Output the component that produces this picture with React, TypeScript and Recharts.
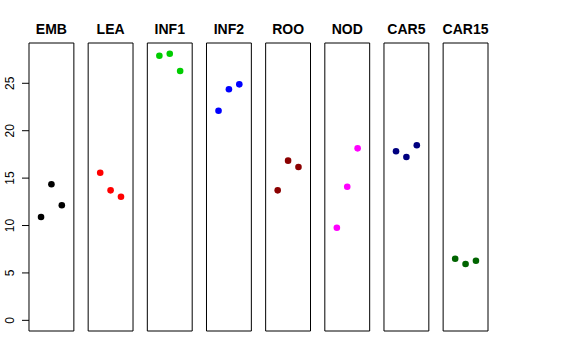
import React from 'react';
import { ScatterChart, Scatter, XAxis, YAxis, ReferenceArea } from 'recharts';

const categories = ['EMB', 'LEA', 'INF1', 'INF2', 'ROO', 'NOD', 'CAR5', 'CAR15'];
const emb = [10.9, 14.35, 12.13];
const lea = [15.57, 13.71, 13.04];
const inf1 = [27.91, 28.12, 26.3];
const inf2 = [22.11, 24.37, 24.89];
const roo = [13.71, 16.84, 16.17];
const nod = [9.77, 14.09, 18.14];
const car5 = [17.83, 17.23, 18.46];
const car15 = [6.5, 5.94, 6.29];
const seriesValues = [emb, lea, inf1, inf2, roo, nod, car5, car15];
const colors = ['#000000', '#FF0000', '#00CD00', '#0000FF', '#8B0000', '#FF00FF', '#000080', '#006400'];
const yTicks = [0, 5, 10, 15, 20, 25];

const PITCH = 5.697; // panel spacing in x units
const LOC_MIN = -0.16;
const LOC_MAX = 4.16;
const Y_MIN = -1.125;
const Y_MAX = 29.25;

const panels = categories.map((name, i) => ({
  name,
  color: colors[i],
  offset: i * PITCH,
  data: seriesValues[i].map((v, k) => ({ x: i * PITCH + k + 1, y: v })),
}));

const Dot = (props: any) => {
  const { cx, cy, fill } = props;
  if (cx == null || cy == null) return null;
  return <circle cx={cx} cy={cy} r={3.3} fill={fill} />;
};

const YTick = (props: any) => {
  const { x, y, payload } = props;
  const bx = x - 6;
  return (
    <text
      x={bx}
      y={y}
      transform={`rotate(-90, ${bx}, ${y})`}
      textAnchor="middle"
      fontSize={12}
      fontFamily="'Liberation Sans', Arial, sans-serif"
      fill="#000"
    >
      {payload.value}
    </text>
  );
};

export default function App() {
  return (
    <div style={{ position: 'absolute', left: 0, top: 0, width: 576, height: 360, background: '#fff' }}>
      <ScatterChart width={576} height={360} margin={{ top: 43, right: 88, bottom: 29, left: 1 }}>
        <XAxis
          type="number"
          dataKey="x"
          domain={[LOC_MIN, 7 * PITCH + LOC_MAX]}
          hide
          allowDataOverflow
        />
        <YAxis
          type="number"
          dataKey="y"
          domain={[Y_MIN, Y_MAX]}
          ticks={yTicks}
          width={28}
          allowDataOverflow
          axisLine={false}
          tickLine={{ stroke: '#000' }}
          tickSize={7}
          tickMargin={2}
          tick={<YTick />}
          interval={0}
        />
        {panels.map((p) => (
          <ReferenceArea
            key={'box' + p.name}
            x1={p.offset + LOC_MIN}
            x2={p.offset + LOC_MAX}
            y1={Y_MIN}
            y2={Y_MAX}
            fill="none"
            fillOpacity={0}
            stroke="#000"
            strokeWidth={1}
            label={(lp: any) => {
              const vb = lp.viewBox || {};
              return (
                <text
                  x={vb.x + vb.width / 2}
                  y={vb.y - 9}
                  textAnchor="middle"
                  fontSize={14}
                  fontWeight="bold"
                  fontFamily="'Liberation Sans', Arial, sans-serif"
                  fill="#000"
                >
                  {p.name}
                </text>
              );
            }}
          />
        ))}
        {panels.map((p) => (
          <Scatter
            key={p.name}
            data={p.data}
            fill={p.color}
            shape={<Dot />}
            isAnimationActive={false}
          />
        ))}
      </ScatterChart>
    </div>
  );
}
